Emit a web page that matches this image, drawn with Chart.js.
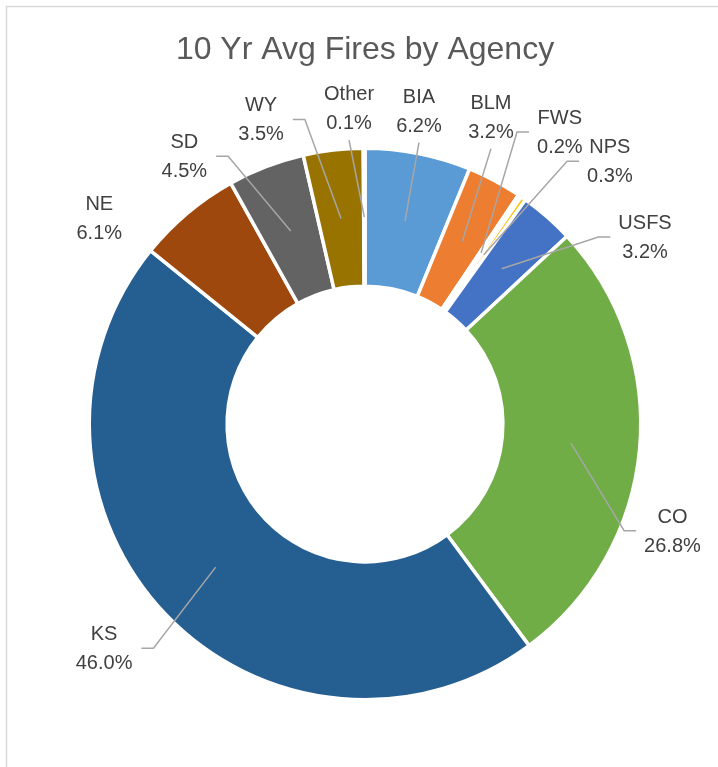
<!DOCTYPE html>
<html>
<head>
<meta charset="utf-8">
<script src="https://cdn.jsdelivr.net/npm/chart.js@4"></script>
<style>
	html, body { margin: 0; padding: 0; background: #ffffff; }
	#wrap { width: 718px; height: 767px; position: relative; }
</style>
</head>
<body>
<div id="wrap"><canvas id="chart"></canvas></div>
<script>
const agencies = ['BIA', 'BLM', 'FWS', 'NPS', 'USFS', 'CO', 'KS', 'NE', 'SD', 'WY', 'Other'];
const shares = [6.2, 3.2, 0.2, 0.3, 3.2, 26.8, 46.0, 6.1, 4.5, 3.5, 0.1];

const sliceColors = ['#5B9BD5', '#ED7D31', '#A5A5A5', '#FFC000', '#4472C4', '#70AD47',
	'#255E91', '#9E480E', '#636363', '#997300', '#264478'];

// where each label sits: angle from top (deg, clockwise), distance as a share of the radius,
// and which side of the label the leader line leaves from
const labelPlacement = [
	[9.8, 1.157, 'bottom'],
	[22.35, 1.209, 'bottom'],
	[33.8, 1.278, 'left'],
	[43.1, 1.308, 'left'],
	[56.4, 1.227, 'left'],
	[109.3, 1.189, 'left'],
	[229.2, 1.258, 'right'],
	[307.6, 1.224, 'none'],
	[325.9, 1.176, 'right'],
	[341.1, 1.171, 'right'],
	[357.1, 1.151, 'bottom']
];

const FONT = "'Liberation Sans', Arial, sans-serif";
const BORDER = 3.5;

const framePlugin = {
	id: 'frame',
	beforeDraw(chart) {
		const ctx = chart.ctx;
		ctx.save();
		ctx.strokeStyle = '#D9D9D9';
		ctx.lineWidth = 1.5;
		ctx.beginPath();
		ctx.moveTo(6.5, chart.height + 5);
		ctx.lineTo(6.5, 6.5);
		ctx.lineTo(chart.width + 5, 6.5);
		ctx.stroke();
		ctx.restore();
	}
};

const sliceLabels = {
	id: 'sliceLabels',
	afterDatasetsDraw(chart) {
		const ctx = chart.ctx;
		const arcs = chart.getDatasetMeta(0).data;
		ctx.save();
		ctx.font = '20px ' + FONT;
		ctx.textAlign = 'center';
		ctx.textBaseline = 'middle';
		arcs.forEach((arc, i) => {
			const [deg, dist, side] = labelPlacement[i];
			const r = (arc.outerRadius - BORDER / 2) * dist;
			const a = deg * Math.PI / 180;
			const lx = arc.x + Math.sin(a) * r;
			const ly = arc.y - Math.cos(a) * r;
			const line1 = agencies[i];
			const line2 = shares[i].toFixed(1) + '%';
			const w = Math.max(ctx.measureText(line1).width, ctx.measureText(line2).width);
			const target = arc.getCenterPoint();

			if (side !== 'none') {
				ctx.strokeStyle = '#A6A6A6';
				ctx.lineWidth = 1.5;
				ctx.beginPath();
				if (side === 'bottom') {
					ctx.moveTo(lx, ly + 31);
				} else if (side === 'left') {
					const sx = lx - w / 2 - 8;
					ctx.moveTo(sx, ly - 1);
					ctx.lineTo(sx - 12, ly - 1);
				} else {
					const sx = lx + w / 2 + 9;
					ctx.moveTo(sx, ly - 1);
					ctx.lineTo(sx + 12, ly - 1);
				}
				ctx.lineTo(target.x, target.y);
				ctx.stroke();
			}

			ctx.fillStyle = '#404040';
			ctx.fillText(line1, lx, ly - 14.5);
			ctx.fillText(line2, lx, ly + 14.5);
		});
		ctx.restore();
	}
};

new Chart(document.getElementById('chart'), {
	type: 'doughnut',
	data: {
		labels: agencies,
		datasets: [{
			data: shares,
			backgroundColor: sliceColors,
			borderColor: '#ffffff',
			borderWidth: BORDER
		}]
	},
	options: {
		responsive: true,
		maintainAspectRatio: false,
		animation: false,
		events: [],
		cutout: '50%',
		layout: {
			padding: { left: 87.5, right: 75.5, top: 0, bottom: 65.5 }
		},
		plugins: {
			legend: { display: false },
			tooltip: { enabled: false },
			title: {
				display: true,
				text: '10 Yr Avg Fires by Agency',
				color: '#595959',
				font: { family: FONT, size: 32, weight: 'normal', lineHeight: 1.2 },
				padding: { top: 31, bottom: 77.1 }
			}
		}
	},
	plugins: [framePlugin, sliceLabels]
});
</script>
</body>
</html>
